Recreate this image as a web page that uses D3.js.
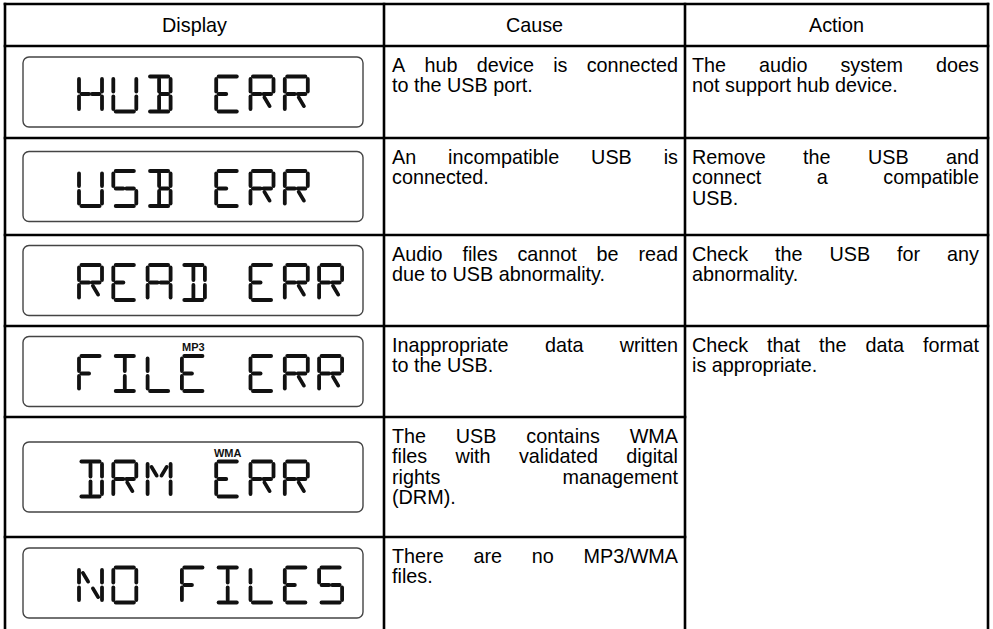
<!DOCTYPE html>
<html><head><meta charset="utf-8">
<script src="https://cdn.jsdelivr.net/npm/d3@7"></script>
<style>html,body{margin:0;padding:0;background:#fff}</style>
</head><body>
<svg id="chart" width="993" height="629"></svg>
<script>
// ---------- data ----------
const headers = ["Display", "Cause", "Action"];
const displays = ["HUB ERR", "USB ERR", "READ ERR", "FILE ERR", "DRM ERR", "NO FILES"];
const indicatorText = [null, null, null, "MP3", "WMA", null];
const indicatorSlot = [null, null, null, 3, 4, null];
const causes = [
  ["A hub device is connected", "to the USB port."],
  ["An incompatible USB is", "connected."],
  ["Audio files cannot be read", "due to USB abnormality."],
  ["Inappropriate data written", "to the USB."],
  ["The USB contains WMA", "files with validated digital", "rights management", "(DRM)."],
  ["There are no MP3/WMA", "files."]
];
const actions = [
  ["The audio system does", "not support hub device."],
  ["Remove the USB and", "connect a compatible", "USB."],
  ["Check the USB for any", "abnormality."],
  ["Check that the data format", "is appropriate."]
];
const actionSpan = [1, 1, 1, 3];

// ---------- layout ----------
const colEdges = [5, 384, 685, 988];
const rowEdges = [4, 46, 138, 235, 326, 417, 537, 632];
const FONT = "'Liberation Sans', Arial, sans-serif";
const FS = 19.8, LH = 20.6;

const svg = d3.select("#chart");
const col = d3.scaleOrdinal().domain([0,1,2,3]).range(colEdges);
const row = d3.scaleOrdinal().domain(d3.range(rowEdges.length)).range(rowEdges);

// ---------- segment glyphs ----------
const GW = 23, GH = 35, g = 2.4;
const segs = {
  a: [[g, 0], [GW - g, 0]],
  b: [[GW, g], [GW, GH/2 - g]],
  c: [[GW, GH/2 + g], [GW, GH - g]],
  d: [[g, GH], [GW - g, GH]],
  e: [[0, GH/2 + g], [0, GH - g]],
  f: [[0, g], [0, GH/2 - g]],
  g1: [[g, GH/2], [GW/2 - g*0.6, GH/2]],
  g2: [[GW/2 + g*0.6, GH/2], [GW - g, GH/2]],
  h: [[g + 1.5, g + 3], [GW/2 - g, GH/2 - g - 1]],
  i: [[GW/2, g], [GW/2, GH/2 - g]],
  j: [[GW - g - 1.5, g + 3], [GW/2 + g, GH/2 - g - 1]],
  k: [[GW/2 - g, GH/2 + g + 1], [g + 1.5, GH - g - 3]],
  l: [[GW/2, GH/2 + g], [GW/2, GH - g]],
  m: [[GW/2 + g, GH/2 + g + 1], [GW - g - 1.5, GH - g - 3]]
};
const glyphs = {
  H: ["b","c","e","f","g1","g2"],
  U: ["b","c","d","e","f"],
  B: ["a","b","c","d","g2","i","l"],
  E: ["a","d","e","f","g1"],
  R: ["a","b","e","f","g1","g2","m"],
  S: ["a","f","g1","g2","c","d"],
  A: ["a","b","c","e","f","g1","g2"],
  D: ["a","b","c","d","i","l"],
  F: ["a","e","f","g1"],
  I: ["a","d","i","l"],
  L: ["d","e","f"],
  M: ["b","c","e","f","h","j"],
  N: ["b","c","e","f","h","m"],
  O: ["a","b","c","d","e","f"],
  " ": []
};
const slotX = d3.scaleLinear().domain([0, 1]).range([79, 113.3]);

// ---------- display cells ----------
displays.forEach((txt, r) => {
  const top = row(r + 1), bot = row(r + 2);
  const cy = (top + bot) / 2;
  const bx = col(0) + 18, bw = 340, bh = 70;
  const by = (r === 5 ? top + 11 : cy - bh / 2);
  const G = svg.append("g");
  G.append("rect").attr("x", bx).attr("y", by).attr("width", bw).attr("height", bh)
    .attr("rx", 6).attr("fill", "#fff").attr("stroke", "#444").attr("stroke-width", 1.4);
  const gy = by + bh / 2 - GH / 2 + 2;
  txt.split("").forEach((ch, k) => {
    const gx = slotX(k);
    const gg = G.append("g").attr("transform", `translate(${gx},${gy})`);
    (glyphs[ch] || []).forEach(s => {
      const p = segs[s];
      gg.append("line").attr("x1", p[0][0]).attr("y1", p[0][1])
        .attr("x2", p[1][0]).attr("y2", p[1][1])
        .attr("stroke", "#111").attr("stroke-width", 3.8).attr("stroke-linecap", "round");
    });
  });
  if (indicatorText[r]) {
    G.append("text").attr("x", slotX(indicatorSlot[r]) + GW / 2).attr("y", gy - 5)
      .attr("text-anchor", "middle").attr("font-family", FONT).attr("font-weight", "bold")
      .attr("font-size", 11).attr("fill", "#111").text(indicatorText[r]);
  }
});

// ---------- justified text ----------
function para(lines, x0, x1, y0) {
  lines.forEach((ln, li) => {
    const y = y0 + li * LH;
    const words = ln.split(" ");
    const last = li === lines.length - 1;
    const tmp = words.map(w => svg.append("text").attr("font-family", FONT).attr("font-size", FS).text(w));
    const widths = tmp.map(t => t.node().getComputedTextLength());
    tmp.forEach(t => t.remove());
    const total = d3.sum(widths);
    const space = FS * 0.278;
    const gap = (!last && words.length > 1) ? (x1 - x0 - total) / (words.length - 1) : space;
    let x = x0;
    words.forEach((w, k) => {
      svg.append("text").attr("x", x).attr("y", y).attr("font-family", FONT)
        .attr("font-size", FS).attr("fill", "#000").text(w);
      x += widths[k] + gap;
    });
  });
}

causes.forEach((lines, r) => {
  para(lines, col(1) + 8, col(2) - 7, row(r + 1) + 25.5);
});
let ar = 0;
actions.forEach((lines, k) => {
  para(lines, col(2) + 7, col(3) - 9, row(ar + 1) + 25.5);
  ar += actionSpan[k];
});

// headers
headers.forEach((h, k) => {
  svg.append("text").attr("x", (col(k) + col(k + 1)) / 2).attr("y", row(0) + 28)
    .attr("text-anchor", "middle").attr("font-family", FONT).attr("font-size", FS).text(h);
});

// ---------- grid lines ----------
const LW = 2.6;
const hl = [];
rowEdges.slice(0, -1).forEach((y, i) => {
  if (i >= 5) hl.push([col(0), col(2), y]);
  else hl.push([col(0), col(3), y]);
});
svg.selectAll("line.h").data(hl).join("line").attr("class", "h")
  .attr("x1", d => d[0] - LW / 2).attr("x2", d => d[1] + LW / 2)
  .attr("y1", d => d[2]).attr("y2", d => d[2])
  .attr("stroke", "#000").attr("stroke-width", LW);
svg.selectAll("line.v").data(colEdges).join("line").attr("class", "v")
  .attr("x1", d => d).attr("x2", d => d)
  .attr("y1", row(0) - LW / 2).attr("y2", 640)
  .attr("stroke", "#000").attr("stroke-width", LW);
</script>
</body></html>
